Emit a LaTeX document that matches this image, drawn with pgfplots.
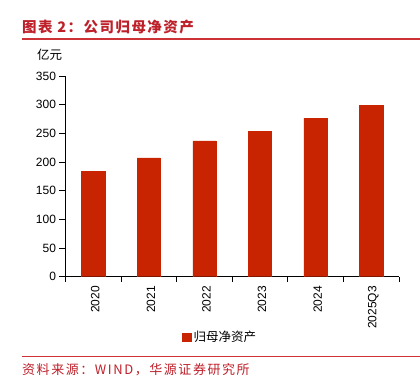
\documentclass[border=0pt]{standalone}
\usepackage{pgfplots}
\pgfplotsset{compat=1.18}
\usepackage{fontspec}
\setmainfont{Liberation Sans}
\newfontfamily\cjk{Noto Sans CJK SC}
\newfontfamily\cjktitle[LetterSpace=10]{Noto Sans CJK SC}
\newfontfamily\cjkfoot[LetterSpace=12]{Noto Sans CJK SC}
\definecolor{barred}{RGB}{200,36,2}
\definecolor{titlered}{RGB}{190,32,42}
\definecolor{linered}{RGB}{205,50,55}
\begin{document}
\begin{tikzpicture}
\useasboundingbox (0,0) rectangle (420bp,382bp);
\node[anchor=west, inner sep=0, text=titlered] at (22bp,355bp) {\fontsize{14.5bp}{17bp}\cjktitle\bfseries 图表 2：公司归母净资产};
\draw[linered, line width=1.6bp] (22bp,343bp) -- (420bp,343bp);
\node[anchor=center, inner sep=0] at (49.5bp,327bp) {\fontsize{12.5bp}{15bp}\cjk 亿元};
\begin{axis}[
  at={(65.5bp,105.3bp)}, anchor=south west,
  scale only axis, width=333.5bp, height=200.7bp,
  xmin=-0.5, xmax=5.5, ymin=0, ymax=350,
  axis x line*=bottom, axis y line*=left,
  axis line style={-, black, line width=0.8bp},
  ytick={0,50,...,350},
  xtick={0,...,5},
  xticklabels={2020,2021,2022,2023,2024,2025Q3},
  minor xtick={-0.5,0.5,...,5.5},
  major x tick style={draw=none},
  minor x tick style={black, line width=0.8bp},
  major y tick style={black, line width=0.8bp},
  tick align=outside,
  major tick length=6bp, minor tick length=5bp,
  /pgf/number format/assume math mode=true,
  tick label style={font=\fontsize{12bp}{14bp}\selectfont},
  x tick label style={rotate=90, anchor=east, yshift=-2bp},
  y tick label style={xshift=0bp},
  legend style={at={(0.463,-0.30)}, anchor=center, draw=none, font=\fontsize{12.5bp}{15bp}\cjk, inner sep=0pt},
  legend image code/.code={\fill[barred] (0bp,-4.2bp) rectangle (9.6bp,4.2bp);},
]
\addplot[ybar, bar width=23.3bp, fill=barred, draw=barred] coordinates {
(0,184) (1,207) (2,237) (3,254) (4,276.5) (5,298.7)
};
\addlegendentry{归母净资产}
\end{axis}
\draw[linered, line width=0.8bp] (22bp,26bp) -- (420bp,26bp);
\node[anchor=west, inner sep=0, text=titlered] at (22bp,12bp) {\fontsize{13bp}{15bp}\cjkfoot 资料来源：WIND，华源证券研究所};
\end{tikzpicture}
\end{document}
